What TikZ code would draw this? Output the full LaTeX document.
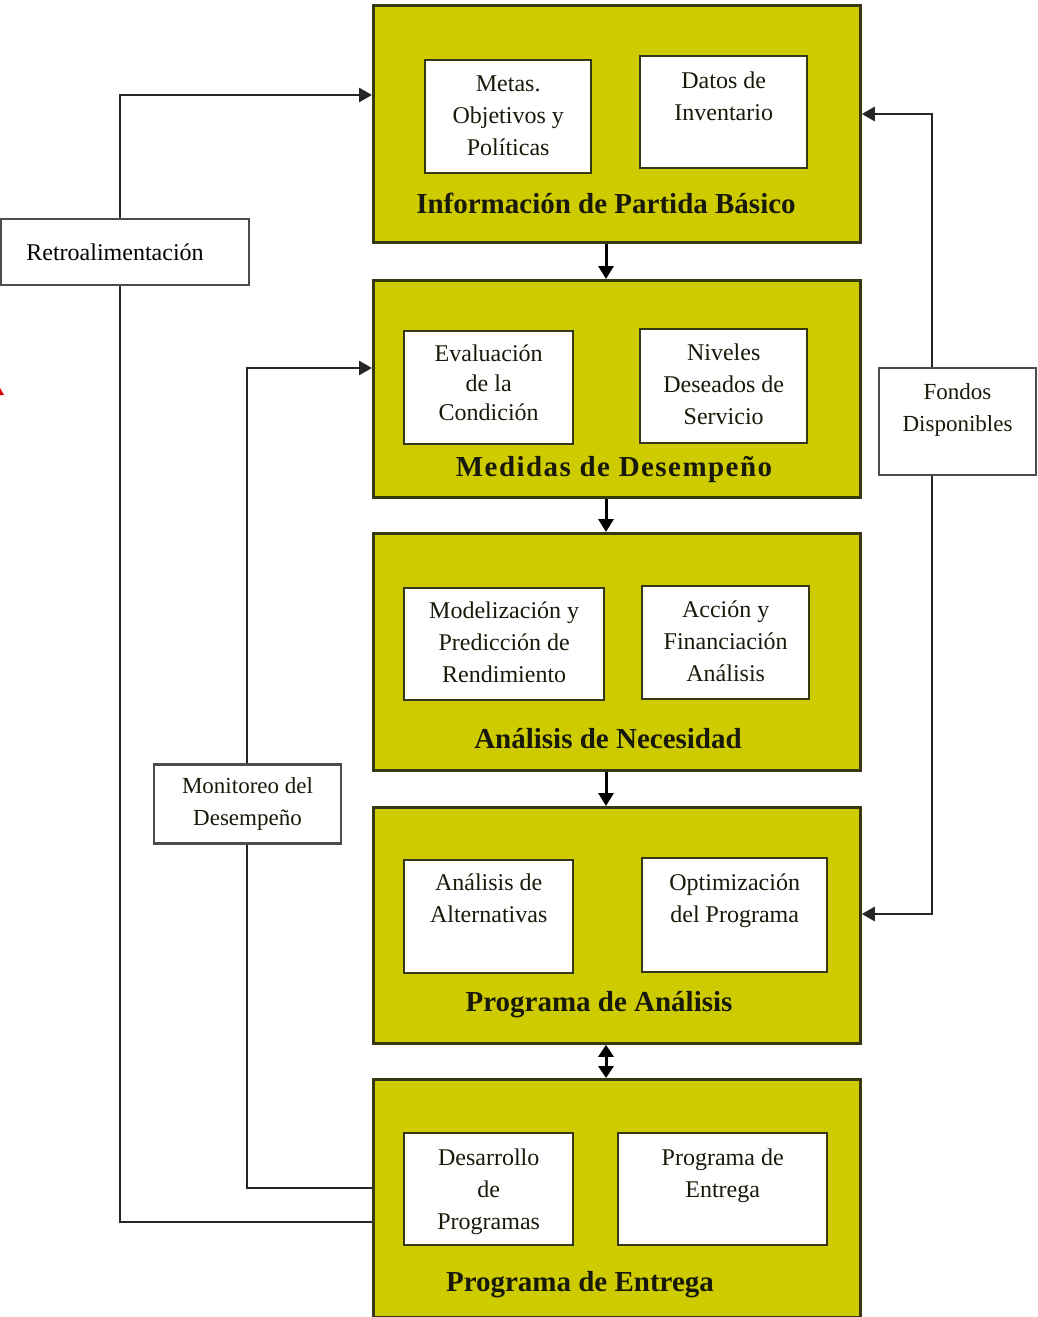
\documentclass[tikz,border=0pt]{standalone}
\usepackage{fontspec}
\setmainfont{Liberation Serif}
\usetikzlibrary{arrows.meta,calc}

\definecolor{stagefill}{RGB}{206,204,0}
\definecolor{stageedge}{RGB}{55,55,20}
\definecolor{inkdark}{RGB}{25,25,10}

\tikzset{
  stage/.style={draw=stageedge, line width=2.8pt, fill=stagefill, anchor=north west, inner sep=0pt},
  itembox/.style={draw=stageedge, line width=2.4pt, fill=white, anchor=north west, inner sep=0pt},
  itemtext/.style={anchor=north, align=center, inner sep=0pt, text=inkdark,
    font=\fontsize{24}{32}\selectfont},
  stagetitle/.style={inner sep=0pt, text=inkdark, font=\fontsize{29}{34}\selectfont\bfseries},
  sidebox/.style={draw=black!70, line width=2.2pt, fill=white, inner sep=0pt, align=center},
  flow/.style={line width=3pt, -{Triangle[length=13pt,width=15pt]}},
  both/.style={line width=3pt, {Triangle[length=12pt,width=15pt]}-{Triangle[length=12pt,width=15pt]}},
  loop/.style={line width=2.8pt, draw=black!85},
  loopin/.style={loop, -{Triangle[length=13pt,width=14pt]}}
}

\begin{document}
\begin{tikzpicture}[x=1pt,y=-1pt]
\useasboundingbox (0,0) rectangle (1037,1317);

% ---------- stages ----------
\node[stage, minimum width=487, minimum height=237] (s1) at (372,4) {};
\node[stage, minimum width=487, minimum height=217] (s2) at (372,279) {};
\node[stage, minimum width=487, minimum height=237] (s3) at (372,532) {};
\node[stage, minimum width=487, minimum height=236] (s4) at (372,806) {};
\node[stage, minimum width=487, minimum height=238] (s5) at (372,1078) {};

% ---------- items of each stage ----------
\node[itembox, minimum width=166, minimum height=113] (i11) at (424,59) {};
\node[itemtext] (t11) at ($(i11.north)+(0,17)$) {Metas.\\Objetivos y\\Políticas};
\node[itembox, minimum width=167, minimum height=112] (i12) at (639,55) {};
\node[itemtext] (t12) at ($(i12.north)+(0,17)$) {Datos de\\Inventario};
\node[stagetitle] (h1) at (606,203) {Información de Partida Básico};

\node[itembox, minimum width=169, minimum height=113] (i21) at (403,330) {};
\node[itemtext, font=\fontsize{24}{29.5}\selectfont] (t21) at ($(i21.north)+(0,15)$) {Evaluación\\de la\\Condición};
\node[itembox, minimum width=167, minimum height=114] (i22) at (639,328) {};
\node[itemtext] (t22) at ($(i22.north)+(0,16)$) {Niveles\\Deseados de\\Servicio};
\node[stagetitle] (h2) at (614,469) {\addfontfeatures{LetterSpace=5}Medidas de Desempeño};

\node[itembox, minimum width=200, minimum height=112] (i31) at (403,587) {};
\node[itemtext] (t31) at ($(i31.north)+(0,15)$) {Modelización y\\Predicción de\\Rendimiento};
\node[itembox, minimum width=167, minimum height=113] (i32) at (641,585) {};
\node[itemtext] (t32) at ($(i32.north)+(0,16)$) {Acción y\\Financiación\\Análisis};
\node[stagetitle] (h3) at (608,739) {Análisis de Necesidad};

\node[itembox, minimum width=169, minimum height=113] (i41) at (403,859) {};
\node[itemtext] (t41) at ($(i41.north)+(0,15)$) {Análisis de\\Alternativas};
\node[itembox, minimum width=185, minimum height=114] (i42) at (641,857) {};
\node[itemtext] (t42) at ($(i42.north)+(0,17)$) {Optimización\\del Programa};
\node[stagetitle] (h4) at (599,1005) {Programa de Análisis};

\node[itembox, minimum width=169, minimum height=112] (i51) at (403,1132) {};
\node[itemtext] (t51) at ($(i51.north)+(0,17)$) {Desarrollo\\de\\Programas};
\node[itembox, minimum width=209, minimum height=112] (i52) at (617,1132) {};
\node[itemtext] (t52) at ($(i52.north)+(0,17)$) {Programa de\\Entrega};
\node[stagetitle] (h5) at (580,1285) {Programa de Entrega};

% ---------- downward flow between stages ----------
\coordinate (axis) at (606,0);
\draw[flow] (axis |- s1.south) -- (axis |- s2.north);
\draw[flow] (axis |- s2.south) -- (axis |- s3.north);
\draw[flow] (axis |- s3.south) -- (axis |- s4.north);
\draw[both] (axis |- s4.south) -- (axis |- s5.north);

% ---------- side boxes ----------
\node[sidebox, minimum width=248, minimum height=66,
      font=\fontsize{24}{28}\selectfont] (retro) at (125,252) {\hspace*{-20pt}Retroalimentación};
\node[sidebox, minimum width=187, minimum height=79, text=inkdark,
      font=\fontsize{23}{32}\selectfont] (moni) at (247.5,804) {Monitoreo del\\Desempeño};
\node[sidebox, minimum width=157, minimum height=107, anchor=north] (fond) at (957.5,367) {};
\node[itemtext, font=\fontsize{23}{32}\selectfont] (tf) at ($(fond.north)+(0,16)$) {Fondos\\Disponibles};

% ---------- feedback loop (left, outer) ----------
\coordinate (fbbot) at (120,1222);
\coordinate (fbtop) at (120,95);
\draw[loop] (fbbot -| s5.west) -- (fbbot) -- (retro.south -| fbbot);
\draw[loopin] (retro.north -| fbtop) -- (fbtop) -- (fbtop -| s1.west);

% ---------- performance monitoring loop (left, inner) ----------
\coordinate (mnbot) at (247,1188);
\coordinate (mntop) at (247,368);
\draw[loop] (mnbot -| s5.west) -- (mnbot) -- (moni.south -| mnbot);
\draw[loopin] (moni.north -| mntop) -- (mntop) -- (mntop -| s2.west);

% ---------- available funds (right) ----------
\coordinate (fdtop) at (932,114);
\coordinate (fdbot) at (932,914);
\draw[loopin] (fond.north -| fdtop) -- (fdtop) -- (fdtop -| s1.east);
\draw[loopin] (fond.south -| fdbot) -- (fdbot) -- (fdbot -| s4.east);

% small red mark at the left edge
\fill[red!85!black] (0,388) -- (4,395) -- (0,395) -- cycle;
\end{tikzpicture}
\end{document}
